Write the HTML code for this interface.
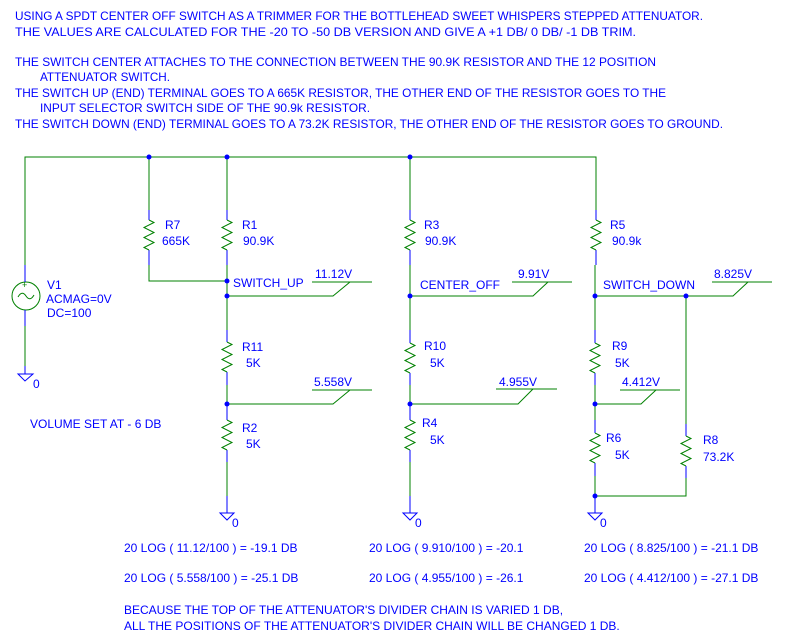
<!DOCTYPE html>
<html><head><meta charset="utf-8"><style>
html,body{margin:0;padding:0;background:#fff;}
svg{display:block;}
text{font-family:"Liberation Sans",Arial,sans-serif;font-size:12px;fill:#0000ff;}
</style></head><body>
<svg width="796" height="638" viewBox="0 0 796 638" xmlns="http://www.w3.org/2000/svg">
<defs>
<path id="zz" d="M0,0 L5,2.5 L-5,7.5 L5,12.5 L-5,17.5 L5,22.5 L-5,27.5 L0,30" fill="none" stroke="#008000" stroke-width="1"/>
<g id="gnd"><line x1="0" y1="0" x2="0" y2="8" stroke="#0000ff"/><path d="M-7,8 L7,8 L0,15 Z" fill="none" stroke="#0000ff"/></g>
</defs>
<!-- header text -->
<text x="15" y="20" textLength="688" lengthAdjust="spacingAndGlyphs">USING A SPDT CENTER OFF SWITCH AS A TRIMMER FOR THE BOTTLEHEAD SWEET WHISPERS STEPPED ATTENUATOR.</text>
<text x="15" y="36" textLength="621" lengthAdjust="spacingAndGlyphs">THE VALUES ARE CALCULATED FOR THE -20 TO -50 DB VERSION AND GIVE A +1 DB/ 0 DB/ -1 DB TRIM.</text>
<text x="15" y="66" textLength="641" lengthAdjust="spacingAndGlyphs">THE SWITCH CENTER ATTACHES TO THE CONNECTION BETWEEN THE 90.9K RESISTOR AND THE 12 POSITION</text>
<text x="40" y="81" textLength="130" lengthAdjust="spacingAndGlyphs">ATTENUATOR SWITCH.</text>
<text x="15" y="97" textLength="651" lengthAdjust="spacingAndGlyphs">THE SWITCH UP (END) TERMINAL GOES TO A 665K RESISTOR, THE OTHER END OF THE RESISTOR GOES TO THE</text>
<text x="40" y="112" textLength="330" lengthAdjust="spacingAndGlyphs">INPUT SELECTOR SWITCH SIDE OF THE 90.9k RESISTOR.</text>
<text x="15" y="128" textLength="708" lengthAdjust="spacingAndGlyphs">THE SWITCH DOWN (END) TERMINAL GOES TO A 73.2K RESISTOR, THE OTHER END OF THE RESISTOR GOES TO GROUND.</text>

<g stroke="#008000" fill="none" stroke-width="1">
<!-- top rail -->
<polyline points="25,265 25,157 596,157 596,210"/>
<line x1="149" y1="157" x2="149" y2="210"/>
<line x1="227" y1="157" x2="227" y2="210"/>
<line x1="410" y1="157" x2="410" y2="210"/>
<!-- V1 -->
<circle cx="26" cy="296" r="14"/>
<line x1="25" y1="318" x2="25" y2="366"/>
<!-- R7 -->
<polyline points="149,265 149,281 227,281"/>
<!-- col1 -->
<line x1="227" y1="265" x2="227" y2="330"/>
<line x1="227" y1="385" x2="227" y2="406"/>
<line x1="227" y1="462" x2="227" y2="496"/>
<polyline points="227,296 333,296 350,282"/><line x1="312" y1="282" x2="372" y2="282"/>
<polyline points="227,404 333,404 350,390"/><line x1="312" y1="390" x2="372" y2="390"/>
<!-- col2 -->
<line x1="410" y1="265" x2="410" y2="330"/>
<line x1="410" y1="385" x2="410" y2="406"/>
<line x1="410" y1="462" x2="410" y2="496"/>
<polyline points="410,296 533,296 548,282"/><line x1="512" y1="282" x2="572" y2="282"/>
<polyline points="410,404 518,404 533,389"/><line x1="496" y1="389" x2="557" y2="389"/>
<!-- col3 -->
<line x1="595" y1="265" x2="595" y2="330"/>
<line x1="595" y1="385" x2="595" y2="420"/>
<line x1="595" y1="476" x2="595" y2="496"/>
<polyline points="595,296 733,296 748,282"/><line x1="712" y1="282" x2="772" y2="282"/>
<polyline points="595,404 641,404 656,390"/><line x1="620" y1="390" x2="680" y2="390"/>
<polyline points="686,296 686,424"/>
<polyline points="686,478 686,496 595,496"/>
</g>
<!-- V1 symbol details -->
<path d="M18,297 Q22,290 26,296 Q30,302 34,295" fill="none" stroke="#008000"/>
<text x="22" y="288" style="font-size:9px;fill:#008000">+</text>
<g stroke="#0000ff">
<line x1="25" y1="265" x2="25" y2="282"/>
<line x1="25" y1="310" x2="25" y2="326"/>
<line x1="25" y1="366" x2="25" y2="374"/>
</g>
<path d="M18,374 L33,374 L25,381 Z" fill="none" stroke="#0000ff"/>
<text x="33" y="388">0</text>

<!-- resistors: blue pins + zigzag -->
<g stroke="#0000ff">
<line x1="149" y1="210" x2="149" y2="220"/><line x1="149" y1="250" x2="149" y2="265"/>
<line x1="227" y1="210" x2="227" y2="220"/><line x1="227" y1="250" x2="227" y2="265"/>
<line x1="410" y1="210" x2="410" y2="220"/><line x1="410" y1="250" x2="410" y2="265"/>
<line x1="596" y1="210" x2="596" y2="220"/><line x1="596" y1="250" x2="596" y2="265"/>
<line x1="227" y1="330" x2="227" y2="342"/><line x1="227" y1="372" x2="227" y2="385"/>
<line x1="227" y1="406" x2="227" y2="420"/><line x1="227" y1="450" x2="227" y2="462"/>
<line x1="410" y1="330" x2="410" y2="343"/><line x1="410" y1="373" x2="410" y2="385"/>
<line x1="410" y1="406" x2="410" y2="420"/><line x1="410" y1="450" x2="410" y2="462"/>
<line x1="595" y1="330" x2="595" y2="343"/><line x1="595" y1="373" x2="595" y2="385"/>
<line x1="595" y1="420" x2="595" y2="433"/><line x1="595" y1="463" x2="595" y2="476"/>
<line x1="686" y1="424" x2="686" y2="436"/><line x1="686" y1="466" x2="686" y2="478"/>
<line x1="227" y1="496" x2="227" y2="513"/>
<line x1="410" y1="496" x2="410" y2="513"/>
<line x1="595" y1="496" x2="595" y2="513"/>
</g>
<use href="#zz" x="149" y="220"/>
<use href="#zz" x="227" y="220"/>
<use href="#zz" x="410" y="220"/>
<use href="#zz" x="596" y="220"/>
<use href="#zz" x="227" y="342"/>
<use href="#zz" x="227" y="420"/>
<use href="#zz" x="410" y="343"/>
<use href="#zz" x="410" y="420"/>
<use href="#zz" x="595" y="343"/>
<use href="#zz" x="595" y="433"/>
<use href="#zz" x="686" y="436"/>
<!-- grounds -->
<path d="M220,513 L234,513 L227,520 Z" fill="none" stroke="#0000ff"/>
<path d="M403,513 L417,513 L410,520 Z" fill="none" stroke="#0000ff"/>
<path d="M588,513 L602,513 L595,520 Z" fill="none" stroke="#0000ff"/>
<text x="232" y="527">0</text><text x="415" y="527">0</text><text x="600" y="527">0</text>
<!-- junction dots -->
<g fill="#0000ff">
<circle cx="149" cy="157" r="2.5"/><circle cx="227" cy="157" r="2.5"/><circle cx="410" cy="157" r="2.5"/>
<circle cx="227" cy="281" r="2.5"/><circle cx="227" cy="296" r="2.5"/><circle cx="227" cy="404" r="2.5"/>
<circle cx="410" cy="296" r="2.5"/><circle cx="410" cy="404" r="2.5"/>
<circle cx="595" cy="296" r="2.5"/><circle cx="686" cy="296" r="2.5"/><circle cx="595" cy="404" r="2.5"/><circle cx="595" cy="496" r="2.5"/>
</g>
<!-- labels -->
<text x="47" y="289">V1</text><text x="46" y="303">ACMAG=0V</text><text x="47" y="317">DC=100</text>
<text x="165" y="229">R7</text><text x="162" y="245">665K</text>
<text x="242" y="229">R1</text><text x="243" y="245">90.9K</text>
<text x="233" y="287">SWITCH_UP</text><text x="315" y="278">11.12V</text>
<text x="242" y="351">R11</text><text x="246" y="367">5K</text>
<text x="314" y="386">5.558V</text>
<text x="242" y="432">R2</text><text x="246" y="448">5K</text>
<text x="30" y="428">VOLUME SET AT - 6 DB</text>
<text x="424" y="229">R3</text><text x="425" y="245">90.9K</text>
<text x="420" y="289">CENTER_OFF</text><text x="518" y="278">9.91V</text>
<text x="424" y="350">R10</text><text x="430" y="367">5K</text>
<text x="499" y="386">4.955V</text>
<text x="422" y="427">R4</text><text x="430" y="444">5K</text>
<text x="610" y="229">R5</text><text x="612" y="245">90.9k</text>
<text x="603" y="289">SWITCH_DOWN</text><text x="714" y="278">8.825V</text>
<text x="612" y="350">R9</text><text x="615" y="367">5K</text>
<text x="622" y="386">4.412V</text>
<text x="606" y="442">R6</text><text x="615" y="459">5K</text>
<text x="703" y="444">R8</text><text x="703" y="461">73.2K</text>
<!-- bottom text -->
<text x="124" y="552">20 LOG ( 11.12/100 ) = -19.1 DB</text>
<text x="124" y="582">20 LOG ( 5.558/100 ) = -25.1 DB</text>
<text x="369" y="552">20 LOG ( 9.910/100 ) = -20.1</text>
<text x="369" y="582">20 LOG ( 4.955/100 ) = -26.1</text>
<text x="584" y="552">20 LOG ( 8.825/100 ) = -21.1 DB</text>
<text x="584" y="582">20 LOG ( 4.412/100 ) = -27.1 DB</text>
<text x="124" y="614">BECAUSE THE TOP OF THE ATTENUATOR'S DIVIDER CHAIN IS VARIED 1 DB,</text>
<text x="124" y="630">ALL THE POSITIONS OF THE ATTENUATOR'S DIVIDER CHAIN WILL BE CHANGED 1 DB.</text>
</svg>
</body></html>
